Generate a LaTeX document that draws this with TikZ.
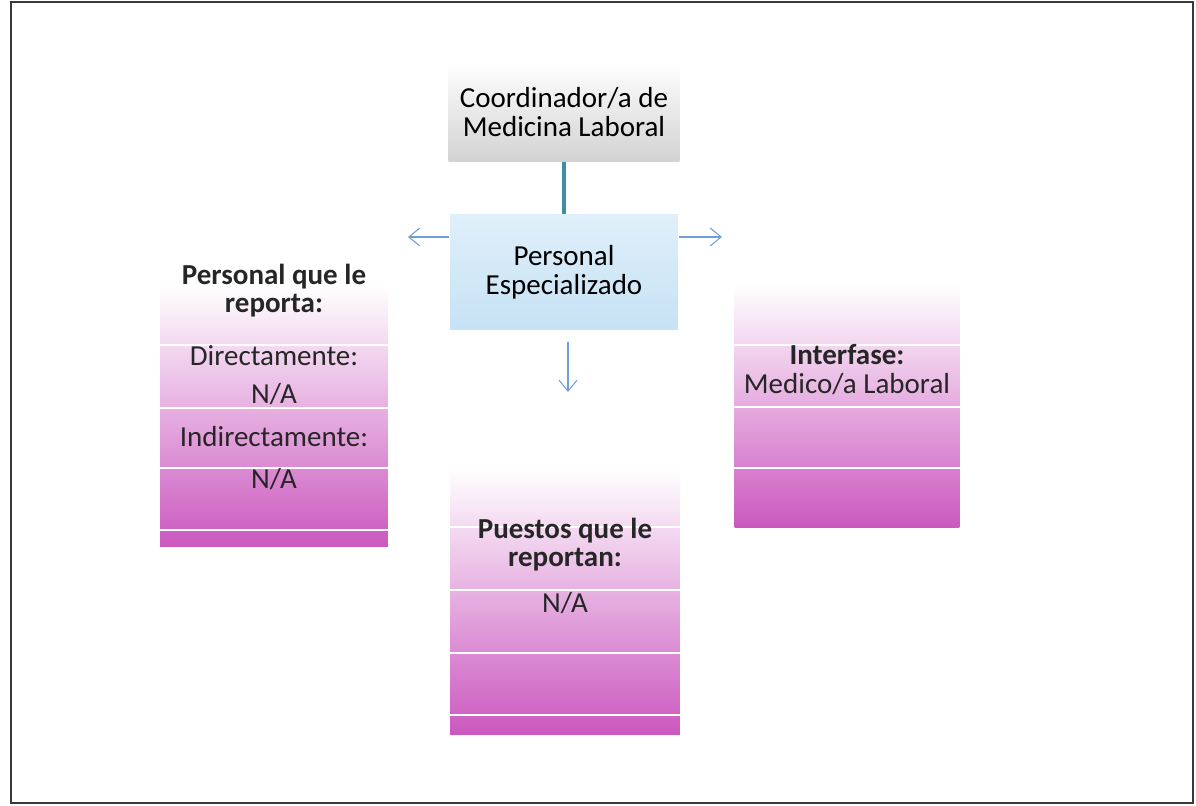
\documentclass[tikz,border=0pt]{standalone}
\usepackage{fontspec}
\setmainfont{Carlito}
\usetikzlibrary{arrows.meta, positioning, calc}
\definecolor{cgrey}{HTML}{D2D2D2}
\definecolor{cblue}{HTML}{C6E2F5}
\definecolor{cteal}{HTML}{3E8FA6}
\definecolor{carrow}{HTML}{6F9FD8}
\definecolor{cmag}{HTML}{CB58BF}
\definecolor{cframe}{HTML}{3A3A3A}
\tikzset{
  every picture/.style={font=\fontsize{16.5}{16.5}\selectfont, line width=0.8pt},
  head/.style={top color=white, bottom color=cgrey, align=center, minimum width=4.62cm, minimum height=1.98cm, inner sep=0pt},
  role/.style={top color=cblue!55, bottom color=cblue, align=center, minimum width=4.56cm, minimum height=2.3cm, inner sep=0pt},
  panel/.style={top color=white, bottom color=cmag, minimum width=#1, inner sep=0pt},
  panel/.default=4.56cm,
  sep/.style={draw=white, line width=1.2pt},
  arrow/.style={-{Straight Barb[length=2.2mm, width=3.6mm]}, draw=carrow, line width=0.6pt},
  label/.style={align=center, text=black!85},
}
\begin{document}
\begin{tikzpicture}[x=0.02cm, y=-0.02cm]
  \useasboundingbox (0,0) rectangle (1196,805);
  \draw[cframe, line width=1.2pt] (11,2) rectangle (1193,803);
  % boxes
  \node[head] (coord) at (564,112) {Coordinador/a de\\ Medicina Laboral};
  \node[role] (esp) at (564,272) {Personal\\ Especializado};
  \node[panel, minimum height=5.24cm] (pl) at (274,416) {};
  \node[panel=4.5cm, minimum height=4.86cm] (pr) at (847,406) {};
  \node[panel=4.6cm, minimum height=5.34cm] (pb) at (565,601) {};
  % separators
  \foreach \y in {345,408,468,530} \draw[sep] (pl.west |- 0,\y) -- (pl.east |- 0,\y);
  \foreach \y in {345,407,468} \draw[sep] (pr.west |- 0,\y) -- (pr.east |- 0,\y);
  \foreach \y in {527,590,653,715} \draw[sep] (pb.west |- 0,\y) -- (pb.east |- 0,\y);
  % texts
  \node[label, font=\fontsize{16.5}{16}\selectfont\bfseries] (plt) at (274,291) {Personal que le\\ reporta:};
  \node[label] (pl1) at (274,356) {Directamente:};
  \node[label] (pl2) at (274,394) {N/A};
  \node[label] (pl3) at (274,437) {Indirectamente:};
  \node[label] (pl4) at (274,479) {N/A};
  \node[label] (prt) at (847,370) {\textbf{Interfase:}\\ Medico/a Laboral};
  \node[label, font=\fontsize{16.5}{16}\selectfont\bfseries] (pbt) at (565,545) {Puestos que le\\ reportan:};
  \node[label] (pb1) at (565,603) {N/A};
  % connectors
  \coordinate (lend) at (408,237);
  \coordinate (rend) at (722,237);
  \coordinate (dend) at (568,392);
  \draw[cteal, line width=1.8pt] (coord.south) -- (esp.north);
  \draw[arrow] (esp.west |- lend) -- (lend);
  \draw[arrow] (esp.east |- rend) -- (rend);
  \draw[arrow] ([yshift=-0.24cm]esp.south -| dend) -- (dend);
\end{tikzpicture}
\end{document}
